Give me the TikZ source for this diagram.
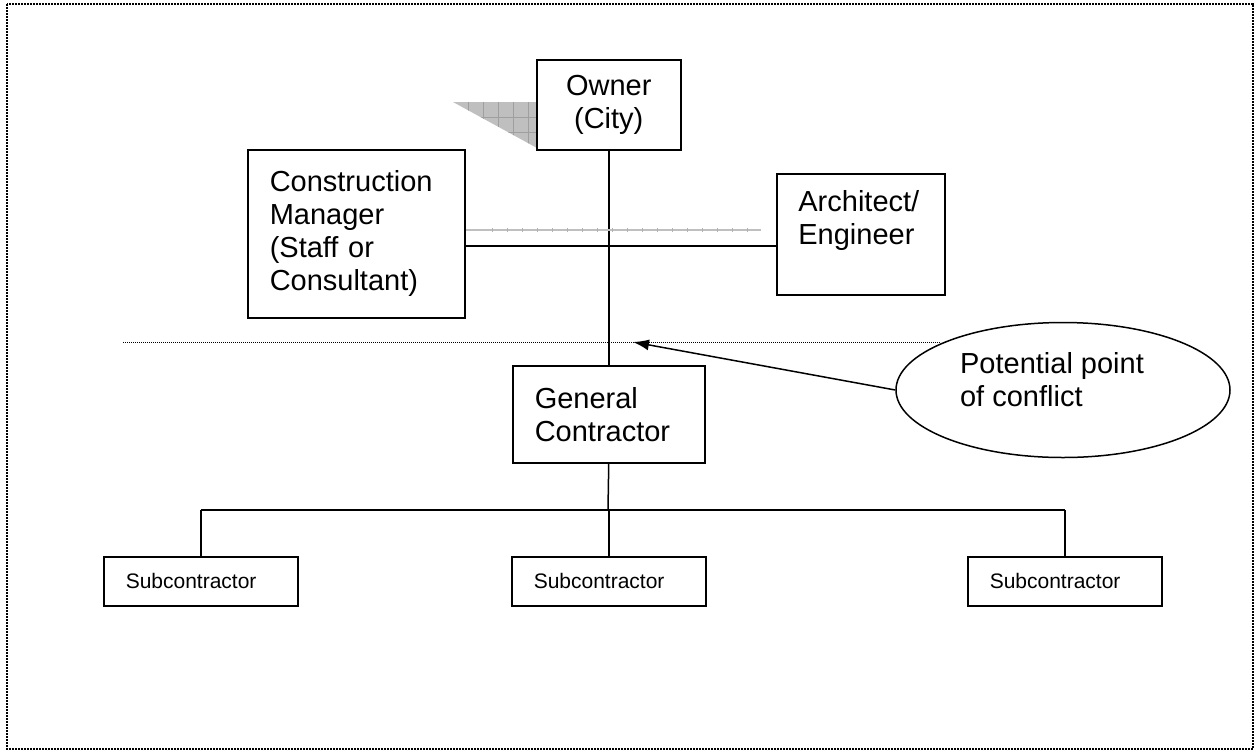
\documentclass[tikz,border=0pt]{standalone}
\usepackage{fontspec}
\setmainfont{Liberation Sans}
\usetikzlibrary{shapes.geometric, arrows.meta}

\begin{document}
\begin{tikzpicture}[x=0.5pt,y=-0.5pt,>={Latex[length=8pt,width=5.5pt]},
    box/.style={draw, line width=0.75pt, anchor=north west, inner xsep=11pt, inner ysep=0pt,
                align=left, font=\fontsize{14.5}{16.5}\selectfont},
    subbox/.style={box, minimum height=24.5pt, text width=75pt, font=\fontsize{10.5}{12}\selectfont},
    link/.style={line width=0.75pt},
    frame/.style={line width=0.8pt, dash pattern=on 0.8pt off 0.7pt},
    sepline/.style={line width=0.5pt, dash pattern=on 0.5pt off 0.5pt}]
        \useasboundingbox (0,0) rectangle (1255,751);

        % dotted frame round the page
        \draw[frame] (7,4) rectangle (1253,749);

        % shadow behind the owner box
        \fill[gray!50] (453,102) -- (537,102) -- (537,148) -- cycle;
        \begin{scope}
            \clip (453,102) -- (537,102) -- (537,148) -- cycle;
            \foreach \x in {468,483,...,528} \draw[gray!75, line width=0.3pt] (\x,100) -- (\x,150);
            \foreach \y in {117,132} \draw[gray!75, line width=0.3pt] (450,\y) -- (540,\y);
        \end{scope}

        % the boxes
        \node[box, align=center, text width=50pt, minimum height=45pt] (owner) at (536,59) {Owner\\(City)};
        \node[box, text width=86.5pt, minimum height=84pt] (cm) at (247,149)
            {Construction\\Manager\\(Staff or\\Consultant)};
        \node[box, text width=62pt, minimum height=60.5pt] (ae) at (776,173) {};
        \node[anchor=north west, inner sep=0pt, align=left, font=\fontsize{14.5}{16.5}\selectfont]
            (aetext) at ([xshift=11pt,yshift=-8.5pt]ae.north west) {Architect/\\Engineer};
        \node[box, text width=74pt, minimum height=48.5pt] (gc) at (512,365) {General\\Contractor};

        \node[subbox] (sub1) at (103,556) {Subcontractor};
        \node[subbox] (sub2) at (511,556) {Subcontractor};
        \node[subbox] (sub3) at (967,556) {Subcontractor};

        % owner down to the general contractor
        \draw[link] (owner.south) -- (gc.north);

        % construction manager to architect, and the grey line above it
        \coordinate (mid) at (608,246);
        \coordinate (greyend) at (761,230);
        \draw[link] (cm.east |- mid) -- (ae.west |- mid);
        \draw[gray!50, line width=1pt] (cm.east |- greyend) -- (greyend);
        \foreach \x in {492,507,...,752} \draw[gray!60, line width=0.3pt] (\x,228) -- (\x,232);

        % bar to the subcontractors
        \coordinate (bar) at (608,510);
        \draw[link] (gc.south) -- (bar);
        \draw[link] (sub1.north |- bar) -- (sub3.north |- bar);
        \foreach \s in {sub1,sub2,sub3} \draw[link] (\s.north |- bar) -- (\s.north);

        % dotted line where the conflict is
        \coordinate (sepL) at (123,342);
        \coordinate (sepR) at (940,342);
        \draw[sepline] (sepL) -- (sepR);

        % the callout
        \node[ellipse, draw, fill=white, line width=0.75pt, minimum width=167pt, minimum height=67.5pt]
            (conflict) at (1063,390) {};
        \node[align=left, inner sep=0pt, font=\fontsize{14.5}{16.5}\selectfont]
            (conflicttext) at (1052,380) {Potential point\\of conflict};
        \coordinate (tip) at (633,342);
        \draw[link, ->] (conflict.west) -- (tip);
\end{tikzpicture}
\end{document}
